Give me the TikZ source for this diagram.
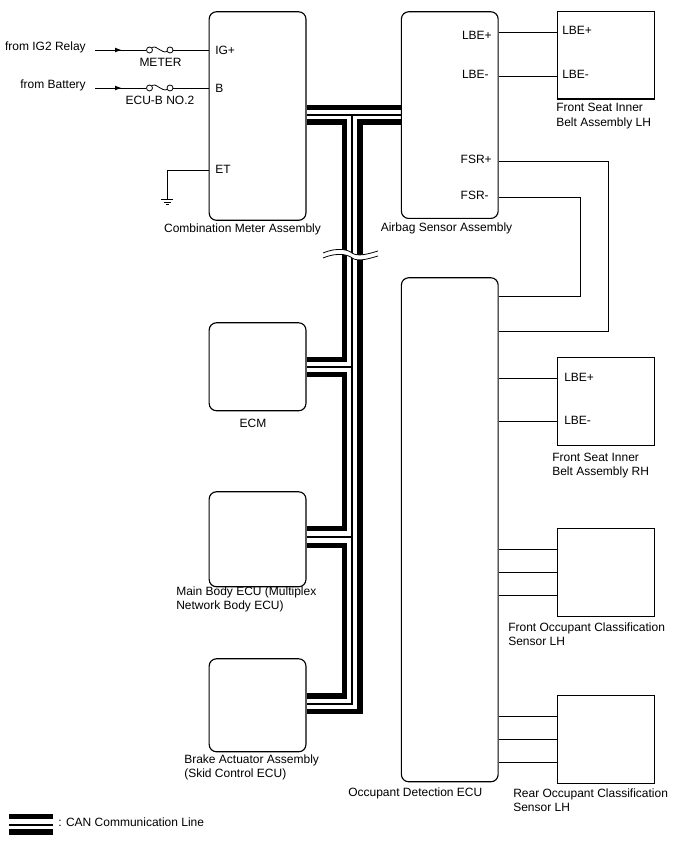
\documentclass[tikz,border=0pt]{standalone}
\usepackage{fontspec}
\setmainfont{Liberation Sans}
\begin{document}
\begin{tikzpicture}[x=0.75pt,y=-0.75pt,
  ecu/.style={draw,line width=0.85pt,rounded corners=5.5pt,inner sep=0pt,minimum width=72.6pt},
  sq/.style={draw,line width=0.85pt,inner sep=0pt,minimum width=73pt},
  wire/.style={line width=0.6pt},
  can/.style={line width=4.4pt,miter limit=10},
  canthin/.style={line width=1.5pt},
  txt/.style={font=\fontsize{9}{10.6}\selectfont,inner sep=0pt,align=left},
  fusedot/.style={draw,line width=0.6pt,circle,minimum size=4.5pt,inner sep=0pt}]
\useasboundingbox (0,0) rectangle (688,852);
% boxes
\node[ecu,minimum height=156.4pt,anchor=north west] (cm) at (208.6,11.2) {};
\node[ecu,minimum height=155pt,anchor=north west] (air) at (400.8,11.2) {};
\node[ecu,minimum height=378pt,anchor=north west] (occ) at (400.8,277.2) {};
\node[ecu,minimum height=66pt,anchor=north west] (ecm) at (208.6,322.2) {};
\node[ecu,minimum height=71.25pt,anchor=north west] (body) at (208.6,491.2) {};
\node[ecu,minimum height=69.75pt,anchor=north west] (brake) at (208.6,658.2) {};
\node[sq,minimum height=65.6pt,anchor=north west] (lh) at (557,11) {};
\node[sq,minimum height=65.6pt,anchor=north west] (rh) at (557,357.2) {};
\node[sq,minimum height=66pt,anchor=north west] (focs) at (557,528.2) {};
\node[sq,minimum height=66pt,anchor=north west] (rocs) at (557,695.2) {};
% CAN bus
\draw[can] (cm.east |- 0,107.5) -- (air.west |- 0,107.5);
\draw[canthin] (cm.east |- 0,115) -- (air.west |- 0,115);
\draw[can] (cm.east |- 0,122) -- (344.5,122) -- (344.5,359.5) -- (ecm.east |- 0,359.5);
\draw[can] (ecm.east |- 0,374.5) -- (344.5,374.5) -- (344.5,528.5) -- (body.east |- 0,528.5);
\draw[can] (body.east |- 0,545.5) -- (344.5,545.5) -- (344.5,696) -- (brake.east |- 0,696);
\draw[can] (air.west |- 0,122) -- (360,122) -- (360,711.5) -- (brake.east |- 0,711.5);
\draw[canthin] (352,115) -- (352,703.5) -- (brake.east |- 0,703.5);
\draw[canthin] (ecm.east |- 0,366.5) -- (352,366.5);
\draw[canthin] (body.east |- 0,537) -- (352,537);
% break mark
\fill[white] (323,253) .. controls (340,246) and (350,251) .. (352,253) .. controls (358,257) and (368,254) .. (378,251) -- (378,256) .. controls (368,259) and (358,262) .. (352,258) .. controls (350,256) and (340,251) .. (323,258) -- cycle;
\draw[line width=0.6pt] (323,253) .. controls (340,246) and (350,251) .. (352,253) .. controls (358,257) and (368,254) .. (378,251);
\draw[line width=0.6pt] (323,258) .. controls (340,251) and (350,256) .. (352,258) .. controls (358,262) and (368,259) .. (378,256);
% right wires
\draw[wire] (air.east |- 0,32.5) -- (lh.west |- 0,32.5);
\draw[wire] (air.east |- 0,76) -- (lh.west |- 0,76);
\draw[wire] (air.east |- 0,161.5) -- (608,161.5) -- (608,331) -- (occ.east |- 0,331);
\draw[wire] (air.east |- 0,197) -- (580,197) -- (580,296) -- (occ.east |- 0,296);
\draw[wire] (occ.east |- 0,378) -- (rh.west |- 0,378);
\draw[wire] (occ.east |- 0,421) -- (rh.west |- 0,421);
\foreach \yy in {549,572,595} \draw[wire] (occ.east |- 0,\yy) -- (focs.west |- 0,\yy);
\foreach \yy in {716,739,762} \draw[wire] (occ.east |- 0,\yy) -- (rocs.west |- 0,\yy);
% fuses
\coordinate (in1) at (95,50);
\coordinate (in2) at (95,88);
\node[fusedot] (f1a) at (149.5,50) {};
\node[fusedot] (f1b) at (170,50) {};
\node[fusedot] (f2a) at (149.5,88) {};
\node[fusedot] (f2b) at (170,88) {};
\draw[wire] (in1) -- (f1a);
\draw[wire] (in2) -- (f2a);
\draw[wire] (f1b) -- (cm.west |- f1b);
\draw[wire] (f2b) -- (cm.west |- f2b);
\draw[line width=0.6pt] (f1a) .. controls (155,44) and (162,54) .. (f1b);
\draw[line width=0.6pt] (f2a) .. controls (155,82) and (162,92) .. (f2b);
\fill (115,47.7) -- (121,50) -- (115,52.3) -- cycle;
\fill (115,85.7) -- (121,88) -- (115,90.3) -- cycle;
% ground
\coordinate (gnd) at (167,199);
\draw[wire] (cm.west |- 0,170) -- (167,170) -- (gnd);
\draw[line width=0.6pt] (161,199.5) -- (173,199.5) (163.5,202) -- (170.5,202) (165.5,204.5) -- (168.5,204.5);
% legend
\coordinate (lega) at (9,816.5);
\coordinate (legb) at (53,816.5);
\draw[can] (lega) -- (legb);
\draw[canthin] (9,824.5) -- (53,824.5);
\draw[can] (9,832) -- (53,832);
% labels
\node[txt,anchor=east] (t1) at (86,47.3) {from IG2 Relay};
\node[txt,anchor=east] (t2) at (86,85.3) {from Battery};
\node[txt] (t3) at (160.5,62) {METER};
\node[txt] (t4) at (160,100) {ECU-B NO.2};
\node[txt,anchor=west] (t5) at (215,50) {IG+};
\node[txt,anchor=west] (t6) at (215,88) {B};
\node[txt,anchor=west] (t7) at (215,169) {ET};
\node[txt] (t8) at (242.5,229) {Combination Meter Assembly};
\node[txt] (t9) at (446.5,228) {Airbag Sensor Assembly};
\node[txt,anchor=east] (t10) at (492,35) {LBE+};
\node[txt,anchor=east] (t11) at (489,74) {LBE-};
\node[txt,anchor=east] (t12) at (492,159) {FSR+};
\node[txt,anchor=east] (t13) at (489,195) {FSR-};
\node[txt,anchor=west] (t14) at (562,30) {LBE+};
\node[txt,anchor=west] (t15) at (562,74) {LBE-};
\node[txt,anchor=west] (t16) at (556,116) {Front Seat Inner\\Belt Assembly LH};
\node[txt] (t17) at (253,423.5) {ECM};
\node[txt,anchor=west] (t18) at (176,599.5) {Main Body ECU (Multiplex\\Network Body ECU)};
\node[txt,anchor=west] (t19) at (184,767.5) {Brake Actuator Assembly\\(Skid Control ECU)};
\node[txt,anchor=west] (t20) at (348,793) {Occupant Detection ECU};
\node[txt,anchor=west] (t21) at (564,377) {LBE+};
\node[txt,anchor=west] (t22) at (564,420) {LBE-};
\node[txt,anchor=west] (t23) at (552,465.5) {Front Seat Inner\\Belt Assembly RH};
\node[txt,anchor=west] (t24) at (508,634) {Front Occupant Classification\\Sensor LH};
\node[txt,anchor=west] (t25) at (513,800) {Rear Occupant Classification\\Sensor LH};
\node[txt,anchor=west] (t26) at (58,822) {: CAN Communication Line};
\end{tikzpicture}
\end{document}
